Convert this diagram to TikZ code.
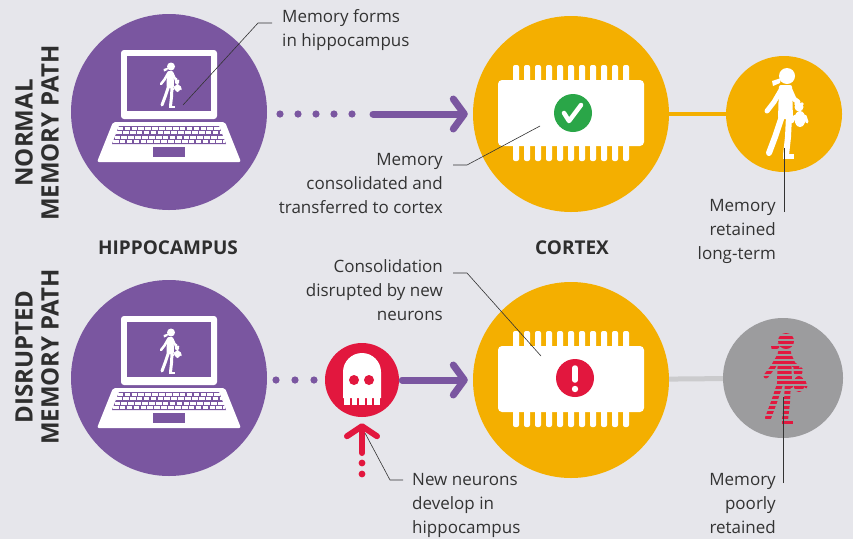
\documentclass[tikz,border=0pt]{standalone}
\usepackage{fontspec}
\setmainfont{Open Sans}
\usetikzlibrary{arrows.meta}

\definecolor{bg}{HTML}{E6E6EB}
\definecolor{hippo}{HTML}{7A56A0}
\definecolor{cortex}{HTML}{F4AF00}
\definecolor{okgreen}{HTML}{2AA648}
\definecolor{alert}{HTML}{E2173E}
\definecolor{faded}{HTML}{9C9C9E}
\definecolor{fadedline}{HTML}{CBCBCD}
\definecolor{ink}{HTML}{333333}

\tikzset{
  note/.style={font=\fontsize{17}{24}\selectfont, text=ink, inner sep=0pt},
  heading/.style={font=\bfseries\fontsize{19}{23}\selectfont, text=ink!90!black},
  rowlabel/.style={font=\bfseries\fontsize{24}{26}\selectfont, text=ink!90!black, rotate=90, align=center},
  leader/.style={draw=ink, line width=0.6pt},
  % walking child holding a teddy, #1 scales the strokes
  child/.pic={
    \fill (2,37) circle (8);
    \fill (-4,35) -- (-13,32) -- (-12,27) -- (-5,30) -- cycle;
    \fill[rounded corners=2pt] (-6,28) -- (7,28) -- (8,-6) -- (-7,-6) -- cycle;
    \draw[line width=#1*5pt, line cap=round, line join=round] (-4,23) -- (-11,11) -- (-18,2);
    \draw[line width=#1*5pt, line cap=round, line join=round] (5,23) -- (9,14) -- (13,11);
    \draw[line width=#1*6pt, line cap=round, line join=round] (-3,-3) -- (-10,-24) -- (-16,-40);
    \draw[line width=#1*6pt, line cap=round, line join=round] (4,-3) -- (3,-24) -- (1,-42);
    \fill (-2,-41) rectangle (9,-46);
    \fill (14,6) circle (4.5);
    \fill (11,9) circle (1.8);
    \fill (17,9) circle (1.8);
    \fill (15,-6) ellipse (5.5 and 8);
    \draw[line width=#1*3pt, line cap=round] (10,-3) -- (7,-9);
    \draw[line width=#1*3pt, line cap=round] (20,-3) -- (22,-9);
  },
  laptop/.pic={
    \fill[white, rounded corners=3pt] (-48,62) rectangle (48,-7);
    \fill[hippo] (-42,56) rectangle (42,1);
    \fill[white, rounded corners=2pt] (-56,-10) -- (56,-10) -- (72,-50) -- (-72,-50) -- cycle;
    \fill[hippo] (-50,-14) -- (50,-14) -- (57,-32) -- (-57,-32) -- cycle;
    \foreach \r in {0,...,3}
      \draw[white, line width=3pt, dash pattern=on 5.6pt off 1.3pt]
        ({-50.5-(\r+0.5)*1.6},{-16.3-\r*4.4}) -- ({50.5+(\r+0.5)*1.6},{-16.3-\r*4.4});
    \fill[hippo] (-16,-35) rectangle (16,-45);
  },
  chip/.pic={
    \foreach \i in {-5,...,5} {
      \fill[white, rounded corners=2pt] (\i*11-3,28) rectangle (\i*11+3,48);
      \fill[white, rounded corners=2pt] (\i*11-3,-28) rectangle (\i*11+3,-48);
    }
    \fill[white, rounded corners=4pt] (-73,33) rectangle (73,-33);
  }
}

\begin{document}
\begin{tikzpicture}[x=1pt, y=1pt,
    bigdisc/.style={circle, minimum size=196pt, inner sep=0pt},
    flow/.style={draw=hippo, line width=7pt, line cap=round,
      -{Straight Barb[round, length=11pt, width=30pt]}},
    alertflow/.style={draw=alert, line width=6pt, line cap=round,
      -{Straight Barb[round, length=10pt, width=30pt]}}]

  % background
  \fill[bg] (0,0) rectangle (853,-539);
  \useasboundingbox (0,0) rectangle (853,-539);

  % row titles
  \node[rowlabel] (normalLbl) at (37,-133) {NORMAL\\MEMORY PATH};
  \node[rowlabel] (disruptLbl) at (37,-357) {DISRUPTED\\MEMORY PATH};

  % ---- normal path ----
  \node[bigdisc, fill=hippo] (hipA) at (169,-112) {};
  \pic at (169,-112) {laptop};
  \pic[white, scale=0.5] at (170,-85) {child=0.5};

  \foreach \x in {280,298,...,352}
    \fill[hippo] (\x,-114) circle (3.6);
  \node[bigdisc, fill=cortex] (ctxA) at (571,-114) {};
  \coordinate (flowA) at (373,-114);
  \draw[flow, shorten >=5pt] (flowA) -- (ctxA);

  \pic at (571,-113) {chip};
  \fill[okgreen] (573,-113) circle (19);
  \draw[white, line width=4.5pt, line cap=round, line join=round]
    (564,-113) -- (569,-121) -- (581,-105);

  \node[circle, fill=cortex, minimum size=116pt, inner sep=0pt] (keptA) at (784,-114) {};
  \draw[cortex, line width=4pt] (ctxA) -- (keptA);
  \pic[white] at (785,-113) {child=1};

  \node[note, anchor=north west, align=left] (formsTxt) at (282,-9) {Memory forms\\in hippocampus};
  \coordinate (formsPt) at (183,-105);
  \draw[leader] ([shift={(-10,-14)}]formsTxt.north west) -- ++(-14,0) -- (formsPt);

  \node[note, anchor=north east, align=right] (consolTxt) at (443,-153) {Memory\\consolidated and\\transferred to cortex};
  \coordinate (consolPt) at (540,-126);
  \draw[leader] ([shift={(10,-12)}]consolTxt.north east) -- ++(14,0) -- (consolPt);

  \node[note, anchor=north east, align=right] (keptTxt) at (776,-199) {Memory\\retained\\long-term};
  \coordinate (keptPt) at (784,-148);
  \draw[leader] ([shift={(8,-13)}]keptTxt.north east) -- (keptPt);

  \node[heading] (hipName) at (168,-248) {HIPPOCAMPUS};
  \node[heading] (ctxName) at (572,-248) {CORTEX};

  % ---- disrupted path ----
  \node[bigdisc, fill=hippo] (hipB) at (169,-378) {};
  \pic at (169,-378) {laptop};
  \pic[white, scale=0.5] at (170,-351) {child=0.5};

  \foreach \x in {276,295,314}
    \fill[hippo] (\x,-380) circle (3.6);
  \node[circle, fill=alert, minimum size=74pt, inner sep=0pt] (skull) at (362,-380) {};
  \fill[white] (343,-372) arc[start angle=180, end angle=0, radius=19] -- (381,-398) -- (343,-398) -- cycle;
  \foreach \x in {344,351.5,...,374}
    \fill[white] (\x,-396) rectangle ++(5.5,-9);
  \fill[alert] (354,-380) circle (5);
  \fill[alert] (369,-380) circle (5);

  \node[bigdisc, fill=cortex] (ctxB) at (571,-380) {};
  \draw[flow, shorten <=3pt, shorten >=5pt] (skull) -- (ctxB);

  \coordinate (newPt) at (362,-453);
  \draw[alertflow, shorten >=6pt] (newPt) -- (skull);
  \fill[alert] (362,-463) circle (3.4);
  \fill[alert] (362,-474) circle (3.4);

  \pic at (571,-379) {chip};
  \fill[alert] (575,-378) circle (19);
  \draw[white, line width=5.5pt, line cap=round] (575,-368) -- (575,-380);
  \fill[white] (575,-389) circle (3.2);

  \node[circle, fill=faded, minimum size=120pt, inner sep=0pt] (lostB) at (783,-378) {};
  \draw[fadedline, line width=5pt] (ctxB) -- (lostB);
  \pic[alert] at (784,-378) {child=1};
  % broken memory: gaps through the figure
  \foreach \y in {-335,-340,...,-425}
    \draw[faded, line width=1.3pt] (760,\y) -- (810,\y);

  \node[note, anchor=north east, align=right] (disruptTxt) at (443,-259) {Consolidation\\disrupted by new\\neurons};
  \coordinate (disruptPt) at (541,-356);
  \draw[leader] ([shift={(10,-14)}]disruptTxt.north east) -- ++(14,0) -- (disruptPt);

  \node[note, anchor=north west, align=left] (newTxt) at (412,-473) {New neurons\\develop in\\hippocampus};
  \coordinate (newTip) at (365,-433);
  \draw[leader] ([shift={(-9,-7)}]newTxt.north west) -- ++(-13,0) -- (newTip);

  \node[note, anchor=north east, align=right] (poorTxt) at (776,-473) {Memory\\poorly\\retained};
  \coordinate (poorPt) at (783,-397);
  \draw[leader] ([shift={(7,-10)}]poorTxt.north east) -- (poorPt);
\end{tikzpicture}
\end{document}
